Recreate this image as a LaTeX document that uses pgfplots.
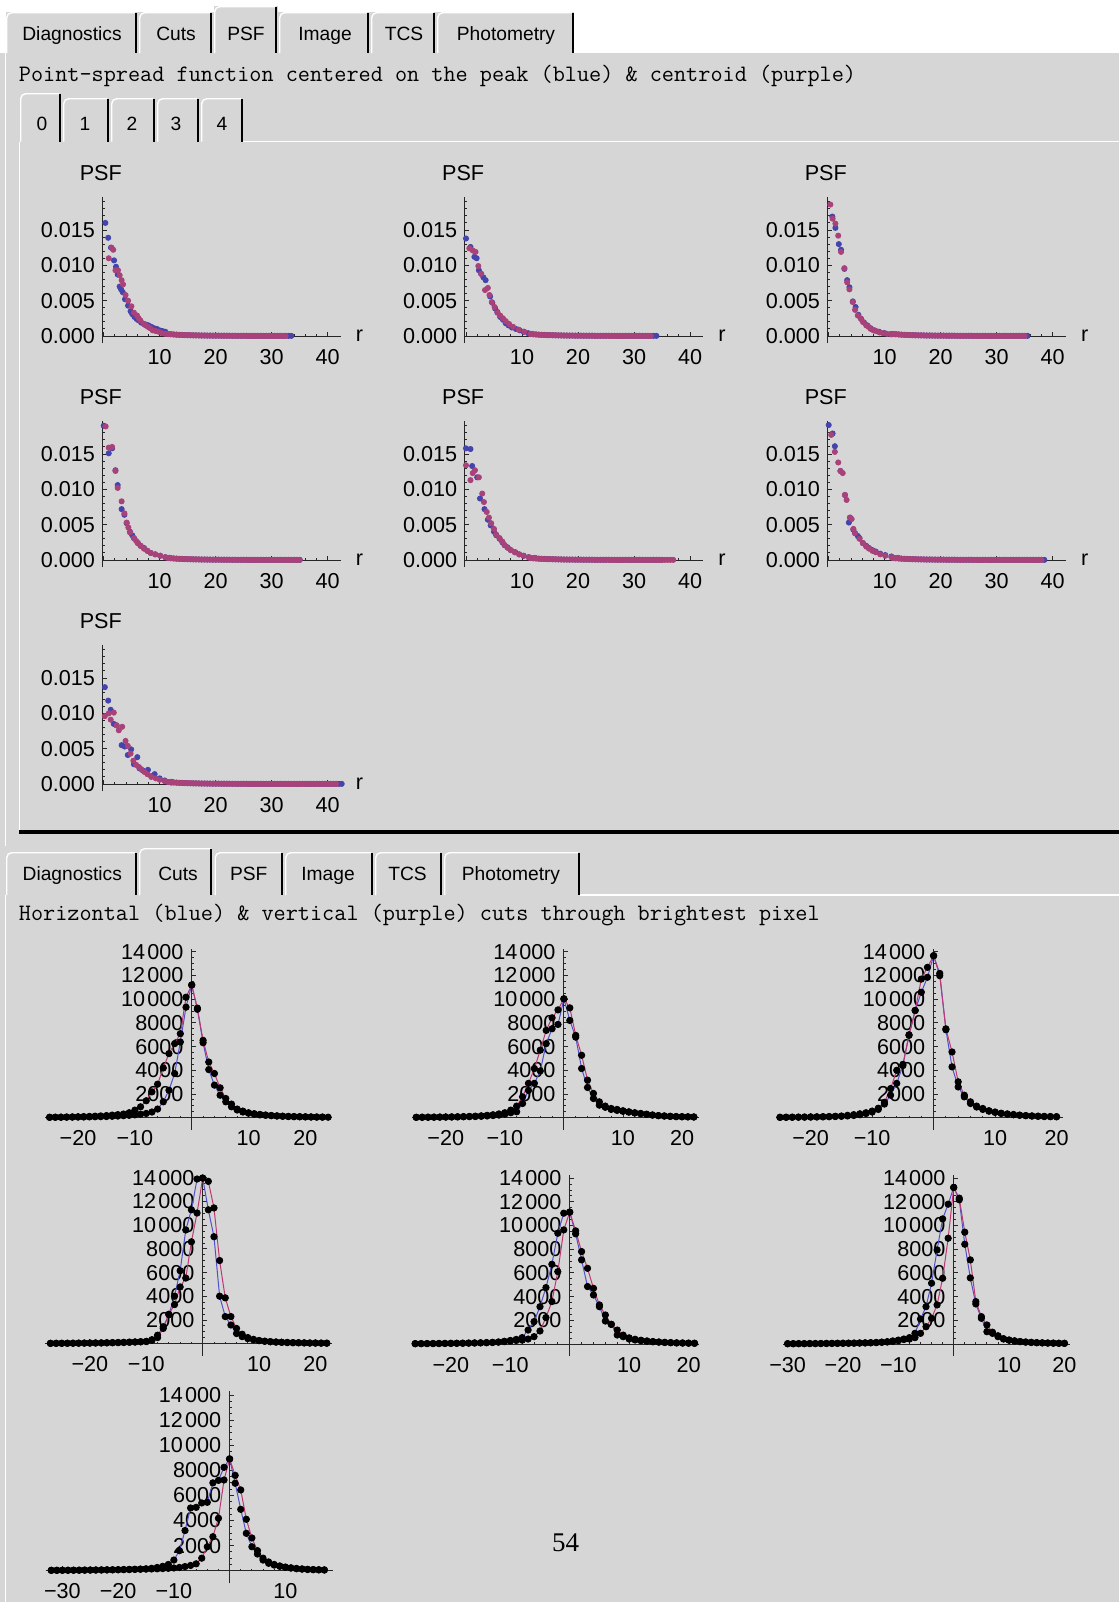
\documentclass[border=0pt]{standalone}
\usepackage{fontspec}
\usepackage{pgfplots}
\pgfplotsset{compat=1.18}
\usepackage{pgfplotstable}
\newfontfamily\lsans{Liberation Sans}
\newfontfamily\lserif{Liberation Serif}
\newcommand\tickf{\lsans\fontsize{10.8}{12}\selectfont}
\newcommand\tabf{\lsans\fontsize{9.6}{11}\selectfont}
\newcommand\monof{\ttfamily\fontsize{11.78}{13}\selectfont}
\definecolor{bgc}{RGB}{214,214,214}
\definecolor{psfb}{RGB}{68,68,172}
\definecolor{psfp}{RGB}{168,66,120}
\definecolor{cutb}{RGB}{80,80,205}
\definecolor{cutp}{RGB}{190,55,115}

% ---------------- PSF data (r, PSF) ----------------
\pgfplotstableread[row sep=\\]{r v\\
11.5 0.00028\\12 0.00025\\12.5 0.00022\\13 0.00019\\13.5 0.00017\\14 0.00015\\14.5 0.00013\\15 0.00012\\15.5 0.00011\\16 0.0001\\16.5 0.00009\\17 0.00008\\17.5 0.00007\\18 0.00007\\18.5 0.00006\\19 0.00006\\19.5 0.00005\\20 0.00005\\20.5 0.00005\\21 0.00004\\21.5 0.00004\\22 0.00004\\22.5 0.00004\\23 0.00003\\23.5 0.00003\\24 0.00003\\24.5 0.00003\\25 0.00003\\25.5 0.00003\\26 0.00002\\26.5 0.00002\\27 0.00002\\27.5 0.00002\\28 0.00002\\28.5 0.00002\\29 0.00002\\29.5 0.00002\\30 0.00002\\30.5 0.00002\\31 0.00002\\31.5 0.00002\\32 0.00002\\32.5 0.00002\\33 0.00002\\33.5 0.00002\\34 0.00002\\34.5 0.00002\\35 0.00002\\35.5 0.00002\\36 0.00002\\36.5 0.00002\\37 0.00002\\37.5 0.00002\\38 0.00002\\38.5 0.00002\\39 0.00002\\39.5 0.00002\\40 0.00002\\40.5 0.00002\\41 0.00002\\41.5 0.00002\\42 0.00002\\42.5 0.00002\\
}\psftail

\pgfplotstableread[row sep=\\]{r v\\0.3 0.0160\\0.8 0.0139\\1.3 0.0125\\1.85 0.0107\\2.2 0.0098\\2.5 0.0087\\2.85 0.0070\\3.1 0.0066\\3.4 0.0062\\3.8 0.0052\\4.35 0.0043\\4.8 0.0035\\5.1 0.0031\\5.5 0.0027\\5.9 0.0024\\6.25 0.0022\\6.7 0.0019\\7.2 0.0017\\7.6 0.0016\\8.0 0.0015\\8.5 0.0013\\9.0 0.0011\\9.5 0.0010\\10.0 0.0008\\10.5 0.0007\\11.0 0.0006\\}\pAb
\pgfplotstableread[row sep=\\]{r v\\0.9 0.0110\\1.4 0.0125\\1.7 0.0122\\2.1 0.0093\\2.55 0.0093\\2.85 0.0086\\3.2 0.0079\\3.45 0.0073\\3.9 0.0058\\4.35 0.0050\\4.95 0.0042\\5.4 0.0033\\5.95 0.0029\\6.25 0.0025\\6.55 0.0022\\7.15 0.0017\\7.5 0.0015\\7.9 0.0013\\8.3 0.0011\\8.75 0.0008\\9.3 0.0007\\9.8 0.0006\\10.4 0.0004\\11.0 0.0003\\}\pAp

\pgfplotstableread[row sep=\\]{r v\\0 0.0138\\0.8 0.0126\\1.5 0.0112\\1.9 0.0110\\2.3 0.0093\\2.7 0.0088\\3.1 0.0083\\3.5 0.0079\\4.3 0.0056\\4.7 0.0047\\5.2 0.0039\\5.6 0.0034\\6.1 0.0027\\6.6 0.0023\\7.1 0.0018\\7.6 0.0015\\8.2 0.0012\\8.9 0.0010\\9.6 0.0008\\10.3 0.0006\\11.1 0.0004\\}\pBb
\pgfplotstableread[row sep=\\]{r v\\0.6 0.0124\\1.2 0.0121\\1.7 0.0119\\2.2 0.0099\\2.7 0.0088\\3.4 0.0065\\3.9 0.0068\\4.2 0.0058\\4.6 0.0048\\5.1 0.0041\\5.6 0.0033\\6.1 0.0029\\6.6 0.0025\\7.1 0.0021\\7.7 0.0017\\8.4 0.0013\\9.4 0.0009\\10.4 0.0006\\11.7 0.0003\\}\pBp

\pgfplotstableread[row sep=\\]{r v\\0.65 0.0169\\1.2 0.0153\\1.8 0.0130\\2.2 0.0122\\2.8 0.0095\\3.3 0.0079\\3.7 0.0069\\4.3 0.0049\\4.8 0.0041\\5.3 0.0030\\5.8 0.0024\\6.3 0.0019\\6.9 0.0015\\7.5 0.0011\\8.2 0.0008\\9.0 0.0006\\10.0 0.0004\\11.0 0.00026\\}\pCb
\pgfplotstableread[row sep=\\]{r v\\0.3 0.0186\\0.7 0.0166\\1.2 0.0159\\1.7 0.0142\\2.2 0.0119\\2.8 0.0096\\3.3 0.0076\\3.7 0.0066\\4.3 0.0048\\4.7 0.0037\\5.2 0.0029\\5.7 0.0025\\6.1 0.0020\\6.7 0.0015\\7.1 0.0013\\7.5 0.0010\\8.0 0.0008\\8.5 0.0007\\9.1 0.0005\\9.7 0.0004\\10.4 0.0003\\11.2 0.00024\\}\pCp

\pgfplotstableread[row sep=\\]{r v\\0 0.0190\\0.9 0.0151\\1.5 0.0158\\2.1 0.0127\\2.5 0.0106\\3.2 0.0072\\3.7 0.0064\\4.1 0.0052\\4.7 0.0040\\5.1 0.0035\\5.4 0.0031\\6.1 0.0024\\6.6 0.0020\\7.2 0.0017\\7.8 0.0013\\8.4 0.0010\\9.2 0.0008\\10.1 0.0006\\11.0 0.0004\\11.8 0.0003\\}\pDb
\pgfplotstableread[row sep=\\]{r v\\0.35 0.0189\\0.9 0.0159\\1.5 0.0160\\2.1 0.0126\\2.5 0.0102\\3.2 0.0083\\3.7 0.0066\\4.1 0.0053\\4.4 0.0046\\4.7 0.0039\\5.4 0.0031\\5.8 0.0027\\6.1 0.0024\\6.6 0.0020\\7.2 0.0016\\7.8 0.0013\\8.4 0.0010\\9.2 0.0008\\10.1 0.0006\\11.0 0.0004\\11.8 0.0003\\}\pDp

\pgfplotstableread[row sep=\\]{r v\\0 0.0158\\0.8 0.0157\\1.1 0.0133\\2.0 0.0117\\2.5 0.0087\\3.3 0.0072\\3.9 0.0057\\4.4 0.0049\\5.0 0.0040\\5.4 0.0035\\6.0 0.0030\\6.5 0.0025\\6.9 0.0021\\7.4 0.0018\\8.0 0.0014\\8.8 0.0011\\9.5 0.0008\\10.3 0.0006\\11.2 0.0004\\12.3 0.0003\\}\pEb
\pgfplotstableread[row sep=\\]{r v\\0 0.0134\\0.8 0.0113\\1.2 0.0123\\1.6 0.0127\\2.3 0.0117\\2.9 0.0094\\3.2 0.0082\\3.7 0.0068\\4.1 0.0060\\4.5 0.0052\\5.0 0.0044\\5.4 0.0036\\6.0 0.0031\\6.5 0.0026\\6.9 0.0021\\7.5 0.0017\\8.0 0.0014\\8.7 0.0011\\9.5 0.0008\\10.3 0.0006\\11.2 0.0004\\12.3 0.0003\\}\pEp

\pgfplotstableread[row sep=\\]{r v\\0 0.0191\\0.7 0.0179\\1.1 0.0161\\2.1 0.0126\\2.9 0.0092\\3.6 0.0053\\3.8 0.0060\\4.4 0.0043\\4.7 0.0038\\5.2 0.0034\\5.5 0.0031\\6.1 0.0024\\6.7 0.0020\\7.2 0.0017\\7.8 0.0014\\8.4 0.0012\\9.2 0.0009\\10.1 0.0007\\11.2 0.0005\\12.4 0.0003\\}\pFb
\pgfplotstableread[row sep=\\]{r v\\0.45 0.0177\\1.1 0.0153\\1.7 0.0138\\2.1 0.0126\\2.5 0.0123\\2.9 0.0092\\3.2 0.0085\\3.8 0.0060\\4.1 0.0058\\4.4 0.0044\\4.7 0.0038\\5.5 0.0030\\6.1 0.0024\\6.7 0.0019\\7.2 0.0016\\7.8 0.0013\\8.4 0.0011\\9.2 0.0008\\10.1 0.0006\\11.2 0.0004\\12.4 0.0003\\}\pFp

\pgfplotstableread[row sep=\\]{r v\\0.2 0.0137\\0.8 0.0118\\1.25 0.0105\\1.8 0.0085\\2.3 0.0083\\3.2 0.0055\\3.75 0.0053\\4.3 0.0041\\4.9 0.0049\\5.4 0.0028\\6.0 0.0038\\6.4 0.0022\\7.0 0.0019\\7.9 0.0020\\8.5 0.0011\\9.1 0.0014\\10.0 0.0008\\10.9 0.0005\\12.1 0.0003\\}\pGb
\pgfplotstableread[row sep=\\]{r v\\0.2 0.0096\\0.9 0.0100\\1.25 0.0091\\1.8 0.0101\\2.3 0.0083\\2.7 0.0076\\3.3 0.0081\\3.9 0.0061\\4.3 0.0054\\4.8 0.0043\\5.3 0.0033\\5.8 0.0027\\6.3 0.0024\\6.7 0.0021\\7.3 0.0017\\7.8 0.0014\\8.5 0.0010\\9.3 0.0008\\10.0 0.0006\\10.9 0.0004\\12.1 0.0002\\}\pGp

% ---------------- Cut data (offset, counts) ----------------
\pgfplotstableread[row sep=\\]{x y\\-25 30\\-24 35\\-23 40\\-22 45\\-21 50\\-20 55\\-19 60\\-18 70\\-17 80\\-16 90\\-15 100\\-14 120\\-13 140\\-12 170\\-11 200\\-10 240\\-9 300\\-8 360\\-7 480\\-6 730\\-5 1340\\-4 2320\\-3 3730\\-2 6390\\-1 9330\\0 11200\\1 9150\\2 6330\\3 4060\\4 2750\\5 1900\\6 1340\\7 920\\8 650\\9 480\\10 380\\11 300\\12 240\\13 200\\14 170\\15 140\\16 120\\17 100\\18 90\\19 80\\20 70\\21 60\\22 55\\23 50\\24 45\\}\cAh
\pgfplotstableread[row sep=\\]{x y\\-25 40\\-24 45\\-23 50\\-22 60\\-21 70\\-20 80\\-19 95\\-18 110\\-17 130\\-16 150\\-15 180\\-14 220\\-13 260\\-12 310\\-11 420\\-10 640\\-9 920\\-8 1430\\-7 2180\\-6 2830\\-5 4200\\-4 5410\\-3 6250\\-2 7090\\-1 10170\\0 11200\\1 9250\\2 6530\\3 4700\\4 3730\\5 2520\\6 1620\\7 1150\\8 730\\9 560\\10 420\\11 340\\12 280\\13 230\\14 190\\15 160\\16 130\\17 110\\18 95\\19 85\\20 75\\21 65\\22 55\\23 50\\}\cAv

\pgfplotstableread[row sep=\\]{x y\\-25 30\\-24 35\\-23 40\\-22 45\\-21 50\\-20 55\\-19 60\\-18 70\\-17 80\\-16 90\\-15 100\\-14 120\\-13 150\\-12 180\\-11 220\\-10 300\\-9 420\\-8 500\\-7 1200\\-6 2300\\-5 2900\\-4 3950\\-3 6250\\-2 7510\\-1 7870\\0 10030\\1 8210\\2 6800\\3 4150\\4 2550\\5 1620\\6 1060\\7 880\\8 700\\9 620\\10 540\\11 470\\12 400\\13 340\\14 280\\15 220\\16 170\\17 140\\18 110\\19 90\\20 80\\21 70\\22 60\\}\cBh
\pgfplotstableread[row sep=\\]{x y\\-25 35\\-24 40\\-23 45\\-22 50\\-21 55\\-20 60\\-19 70\\-18 80\\-17 95\\-16 110\\-15 130\\-14 160\\-13 200\\-12 250\\-11 320\\-10 420\\-9 640\\-8 980\\-7 1760\\-6 2900\\-5 4150\\-4 5700\\-3 7370\\-2 8430\\-1 9100\\0 10030\\1 9270\\2 6950\\3 5270\\4 3170\\5 2050\\6 1340\\7 980\\8 780\\9 700\\10 590\\11 500\\12 420\\13 360\\14 300\\15 230\\16 180\\17 150\\18 120\\19 100\\20 85\\21 75\\22 65\\}\cBv

\pgfplotstableread[row sep=\\]{x y\\-25 30\\-24 35\\-23 40\\-22 45\\-21 50\\-20 55\\-19 65\\-18 75\\-17 85\\-16 100\\-15 120\\-14 150\\-13 190\\-12 250\\-11 350\\-10 480\\-9 700\\-8 1150\\-7 1900\\-6 2900\\-5 4400\\-4 6950\\-3 9050\\-2 10590\\-1 11850\\0 13670\\1 12180\\2 7420\\3 4290\\4 2600\\5 1760\\6 1200\\7 900\\8 700\\9 550\\10 450\\11 360\\12 300\\13 250\\14 200\\15 170\\16 140\\17 120\\18 100\\19 90\\20 80\\}\cCh
\pgfplotstableread[row sep=\\]{x y\\-25 35\\-24 40\\-23 45\\-22 50\\-21 55\\-20 65\\-19 75\\-18 85\\-17 100\\-16 120\\-15 140\\-14 200\\-13 260\\-12 330\\-11 420\\-10 560\\-9 800\\-8 1300\\-7 2460\\-6 4000\\-5 4500\\-4 7000\\-3 9050\\-2 11700\\-1 12690\\0 13670\\1 11990\\2 7500\\3 5550\\4 3030\\5 1900\\6 1340\\7 980\\8 780\\9 590\\10 480\\11 380\\12 320\\13 270\\14 220\\15 180\\16 150\\17 130\\18 110\\19 95\\20 85\\}\cCv

\pgfplotstableread[row sep=\\]{x y\\-27 30\\-26 30\\-25 35\\-24 35\\-23 40\\-22 45\\-21 50\\-20 55\\-19 60\\-18 65\\-17 75\\-16 85\\-15 95\\-14 110\\-13 130\\-12 150\\-11 170\\-10 200\\-9 340\\-8 720\\-7 1430\\-6 2440\\-5 4010\\-4 6160\\-3 9600\\-2 11300\\-1 13900\\0 13980\\1 11300\\2 9030\\3 4010\\4 2290\\5 1580\\6 860\\7 600\\8 430\\9 330\\10 260\\11 210\\12 170\\13 140\\14 120\\15 100\\16 90\\17 80\\18 70\\19 60\\20 55\\21 50\\22 45\\}\cDh
\pgfplotstableread[row sep=\\]{x y\\-27 30\\-26 35\\-25 35\\-24 40\\-23 45\\-22 50\\-21 55\\-20 60\\-19 65\\-18 70\\-17 80\\-16 90\\-15 100\\-14 110\\-13 125\\-12 140\\-11 160\\-10 180\\-9 290\\-8 520\\-7 1290\\-6 2490\\-5 3300\\-4 4790\\-3 5540\\-2 8600\\-1 11030\\0 13980\\1 13700\\2 11460\\3 7020\\4 3870\\5 2290\\6 1290\\7 800\\8 520\\9 370\\10 270\\11 210\\12 170\\13 140\\14 120\\15 100\\16 90\\17 80\\18 70\\19 60\\20 55\\21 50\\22 45\\}\cDv

\pgfplotstableread[row sep=\\]{x y\\-26 30\\-25 30\\-24 35\\-23 40\\-22 45\\-21 50\\-20 55\\-19 60\\-18 70\\-17 80\\-16 90\\-15 105\\-14 120\\-13 140\\-12 170\\-11 230\\-10 300\\-9 390\\-8 540\\-7 1180\\-6 1890\\-5 3150\\-4 4760\\-3 6730\\-2 9350\\-1 11040\\0 11130\\1 9300\\2 7100\\3 4850\\4 4140\\5 3150\\6 1940\\7 1660\\8 760\\9 620\\10 420\\11 340\\12 280\\13 230\\14 190\\15 160\\16 130\\17 110\\18 90\\19 80\\20 70\\21 60\\}\cEh
\pgfplotstableread[row sep=\\]{x y\\-26 30\\-25 35\\-24 35\\-23 40\\-22 45\\-21 50\\-20 55\\-19 60\\-18 65\\-17 75\\-16 85\\-15 95\\-14 110\\-13 130\\-12 160\\-11 200\\-10 250\\-9 300\\-8 330\\-7 420\\-6 620\\-5 1100\\-4 2230\\-3 3580\\-2 6110\\-1 9630\\0 11130\\1 9550\\2 7800\\3 6390\\4 4700\\5 3300\\6 2450\\7 1660\\8 1180\\9 750\\10 520\\11 400\\12 320\\13 260\\14 210\\15 170\\16 140\\17 120\\18 100\\19 85\\20 75\\21 65\\}\cEv

\pgfplotstableread[row sep=\\]{x y\\-30 25\\-29 25\\-28 30\\-27 30\\-26 35\\-25 35\\-24 40\\-23 45\\-22 50\\-21 55\\-20 60\\-19 65\\-18 70\\-17 80\\-16 90\\-15 100\\-14 120\\-13 140\\-12 170\\-11 220\\-10 280\\-9 380\\-8 540\\-7 900\\-6 2110\\-5 3150\\-4 5130\\-3 7940\\-2 10560\\-1 11800\\0 13210\\1 12170\\2 8420\\3 5580\\4 3380\\5 2170\\6 1040\\7 900\\8 620\\9 420\\10 320\\11 250\\12 200\\13 160\\14 130\\15 110\\16 95\\17 80\\18 70\\19 60\\20 55\\}\cFh
\pgfplotstableread[row sep=\\]{x y\\-30 30\\-29 30\\-28 35\\-27 35\\-26 40\\-25 40\\-24 45\\-23 50\\-22 55\\-21 60\\-20 65\\-19 70\\-18 80\\-17 90\\-16 100\\-15 115\\-14 130\\-13 160\\-12 200\\-11 260\\-10 330\\-9 420\\-8 420\\-7 540\\-6 900\\-5 1460\\-4 2170\\-3 3300\\-2 5550\\-1 8930\\0 13210\\1 12310\\2 9440\\3 7100\\4 3580\\5 2310\\6 1610\\7 1000\\8 700\\9 450\\10 340\\11 270\\12 210\\13 170\\14 140\\15 115\\16 100\\17 85\\18 75\\19 65\\20 60\\}\cFv

\pgfplotstableread[row sep=\\]{x y\\-32 30\\-31 30\\-30 35\\-29 35\\-28 40\\-27 40\\-26 45\\-25 50\\-24 55\\-23 60\\-22 65\\-21 70\\-20 80\\-19 90\\-18 100\\-17 110\\-16 130\\-15 150\\-14 190\\-13 260\\-12 350\\-11 500\\-10 850\\-9 1600\\-8 3200\\-7 5000\\-6 5050\\-5 5400\\-4 5450\\-3 7000\\-2 7200\\-1 8240\\0 8910\\1 6970\\2 4890\\3 2980\\4 1910\\5 1330\\6 850\\7 590\\8 450\\9 350\\10 270\\11 210\\12 160\\13 130\\14 100\\15 85\\16 70\\17 60\\}\cGh
\pgfplotstableread[row sep=\\]{x y\\-32 30\\-31 35\\-30 35\\-29 40\\-28 40\\-27 45\\-26 50\\-25 55\\-24 60\\-23 65\\-22 70\\-21 75\\-20 80\\-19 90\\-18 100\\-17 110\\-16 120\\-15 130\\-14 140\\-13 150\\-12 170\\-11 190\\-10 220\\-9 260\\-8 330\\-7 420\\-6 550\\-5 1000\\-4 1910\\-3 2710\\-2 4180\\-1 7230\\0 8910\\1 7600\\2 6440\\3 4100\\4 2610\\5 1600\\6 1000\\7 700\\8 500\\9 380\\10 290\\11 230\\12 180\\13 140\\14 110\\15 90\\16 75\\17 65\\}\cGv

\pgfplotsset{
  common/.style={
    anchor=origin, scale only axis, clip=false,
    axis line style={black!85, line width=0.5pt},
    tick align=inside, major tick length=2.2pt, minor tick length=1.1pt,
    tick style={black!85, line width=0.45pt},
    ticklabel style={font=\tickf},
    xticklabel style={anchor=north, inner sep=0pt, yshift=-6.3pt},
    hide obscured x ticks=false, hide obscured y ticks=false,
    scaled ticks=false,
  },
  psf/.style={common,
    width=119.15pt, height=73.15pt,
    xmin=-0.25, xmax=42.3, ymin=-0.001, ymax=0.0197,
    axis x line*=middle, axis y line*=left,
    xtick={0,10,20,30,40}, xticklabels={,10,20,30,40},
    ytick={0,0.005,0.01,0.015}, yticklabels={0.000,0.005,0.010,0.015},
    minor x tick num=4, minor y tick num=4,
    extra y ticks={0.016,0.017,0.018,0.019}, extra y tick labels={},
    extra y tick style={major tick length=1.1pt},
    yticklabel style={anchor=east, inner sep=0pt, xshift=-3.5pt},
  },
  cut/.style={common,
    width=143.5pt,
    axis x line*=middle, axis y line*=middle,
    ytick={0,2000,4000,6000,8000,10000,12000,14000},
    yticklabels={,2000,4000,6000,8000,10\kern.1em000,12\kern.1em000,14\kern.1em000},
    minor x tick num=4, minor y tick num=3,
    yticklabel style={anchor=east, inner sep=0pt, xshift=-4pt},
  },
  rowa/.style={height=90.65pt, ymin=-1050, ymax=14250},
  rowc/.style={height=96pt, ymin=-1000, ymax=14300},
  pb/.style={only marks, mark=*, mark size=1.3pt, color=psfb, mark options={draw=none, fill=psfb}},
  pp/.style={only marks, mark=*, mark size=1.3pt, color=psfp, mark options={draw=none, fill=psfp}},
  cl/.style={no marks, line width=0.5pt},
  cm/.style={only marks, mark=*, mark size=1.6pt, color=black, mark options={draw=none, fill=black}},
}

\newcommand{\tabbox}[4]{%
  \fill[bgc] (#1,#3) rectangle (#2,#4);
  \draw[white, line width=0.7pt, rounded corners=2.5pt] (#1+0.7,#4) -- (#1+0.7,#3+0.7) -- (#2-2,#3+0.7);
  \draw[black, line width=1.2pt] (#2-1.3,#3+1) -- (#2-1.3,#4);
}
\newcommand{\psflabels}{%
  \node[font=\tickf, inner sep=0pt, xshift=-0.75pt, yshift=81.5pt] at (axis cs:-0.25,0) {PSF};
  \node[font=\tickf, inner sep=0pt, anchor=west, xshift=7.5pt] at (axis cs:42.3,0) {r};
}
\newcommand{\psfplot}[6]{% #1 b table, #2 b end, #3 p table, #4 p end, #5 x pt, #6 y pt
  \begin{axis}[psf, at={(#5,#6)}]
    \addplot[pb] table[x=r,y=v]{#1};
    \addplot[pb, restrict x to domain=11.5:#2] table[x=r,y=v]{\psftail};
    \addplot[pp] table[x=r,y=v]{#3};
    \addplot[pp, restrict x to domain=11.5:#4] table[x=r,y=v]{\psftail};
    \psflabels
  \end{axis}
}
\newcommand{\cutplots}[2]{%
  \addplot[cl, cutb] table{#1};
  \addplot[cl, cutp] table{#2};
  \addplot[cm] table{#1};
  \addplot[cm] table{#2};
}

\begin{document}
\begin{tikzpicture}
\begin{scope}[x=0.5pt, y=-0.5pt]
  \useasboundingbox (0,0) rectangle (1119,1602);
  \fill[bgc] (0,0) rectangle (1119,1602);
  \fill[white] (0,0) rectangle (1119,12);
  \fill[white] (574,0) rectangle (1119,53);
  \fill[white] (0,0) rectangle (6,53);
  % top tabs
  \tabbox{6}{137}{12}{53}
  \tabbox{139}{212}{12}{53}
  \tabbox{214}{277.5}{6}{53}
  \tabbox{279}{369}{12}{53}
  \tabbox{371}{435.5}{12}{53}
  \tabbox{437}{574}{12}{53}
  \node[font=\tabf, anchor=base] at (72,40) {Diagnostics};
  \node[font=\tabf, anchor=base] at (176,40) {Cuts};
  \node[font=\tabf, anchor=base] at (246,40) {PSF};
  \node[font=\tabf, anchor=base] at (325,40) {Image};
  \node[font=\tabf, anchor=base] at (404,40) {TCS};
  \node[font=\tabf, anchor=base] at (506,40) {Photometry};
  \draw[white, line width=0.6pt] (5.7,53) -- (5.7,846);
  \node[font=\monof, anchor=base west, inner sep=0pt] at (18.5,81) {Point-spread function centered on the peak (blue) \& centroid (purple)};
  % sub tabs
  \tabbox{20}{61}{93}{141.5}
  \tabbox{63}{109}{98}{141.5}
  \tabbox{111}{155}{98}{141.5}
  \tabbox{157}{199}{98}{141.5}
  \tabbox{201}{243}{98}{141.5}
  \node[font=\tabf, anchor=base] at (42,130) {0};
  \node[font=\tabf, anchor=base] at (85,130) {1};
  \node[font=\tabf, anchor=base] at (132,130) {2};
  \node[font=\tabf, anchor=base] at (176,130) {3};
  \node[font=\tabf, anchor=base] at (222,130) {4};
  \draw[white, line width=0.6pt] (243,141.5) -- (1119,141.5);
  \draw[white, line width=0.6pt] (19.5,141.5) -- (19.5,832);
  \draw[black, line width=1.6pt] (19,832) -- (1119,832);
  % bottom tabs
  \tabbox{6}{137}{852}{895}
  \tabbox{139}{212.4}{848}{895}
  \tabbox{214.5}{283}{852}{895}
  \tabbox{285}{373}{852}{895}
  \tabbox{375}{442}{852}{895}
  \tabbox{444}{580}{852}{895}
  \node[font=\tabf, anchor=base] at (72.3,880) {Diagnostics};
  \node[font=\tabf, anchor=base] at (178,880) {Cuts};
  \node[font=\tabf, anchor=base] at (248.7,880) {PSF};
  \node[font=\tabf, anchor=base] at (328,880) {Image};
  \node[font=\tabf, anchor=base] at (407.5,880) {TCS};
  \node[font=\tabf, anchor=base] at (511,880) {Photometry};
  \draw[white, line width=0.6pt] (580,895) -- (1119,895);
  \draw[white, line width=0.6pt] (5.7,895) -- (5.7,1602);
  \node[font=\monof, anchor=base west, inner sep=0pt] at (18.5,920) {Horizontal (blue) \& vertical (purple) cuts through brightest pixel};
  \node[font=\lserif\fontsize{13.5}{15}\selectfont, anchor=base] at (565.5,1551.7) {54};
\end{scope}

% ---------------- PSF panels ----------------
\psfplot{\pAb}{33.9}{\pAp}{32.5}{51.85pt}{-168pt}
\psfplot{\pBb}{34.1}{\pBp}{33}{233pt}{-168pt}
\psfplot{\pCb}{35.6}{\pCp}{35}{414.35pt}{-168pt}
\psfplot{\pDb}{35}{\pDp}{35.4}{51.85pt}{-280pt}
\psfplot{\pEb}{35}{\pEp}{37.4}{233pt}{-280pt}
\psfplot{\pFb}{38.9}{\pFp}{38}{414.35pt}{-280pt}
\psfplot{\pGb}{42.5}{\pGp}{41.5}{51.85pt}{-392pt}

% ---------------- Cut panels ----------------
\begin{axis}[cut, rowa, at={(95.85pt,-558.85pt)}, xmin=-25.8, xmax=24.7,
  xtick={-20,-10,0,10,20}, xticklabels={−20,−10,,10,20}]
  \cutplots{\cAh}{\cAv}
\end{axis}
\begin{axis}[cut, rowa, at={(281.95pt,-558.85pt)}, xmin=-25.7, xmax=22.9,
  xtick={-20,-10,0,10,20}, xticklabels={−20,−10,,10,20}]
  \cutplots{\cBh}{\cBv}
\end{axis}
\begin{axis}[cut, rowa, at={(466.8pt,-558.85pt)}, xmin=-25.7, xmax=21.0,
  xtick={-20,-10,0,10,20}, xticklabels={−20,−10,,10,20}]
  \cutplots{\cCh}{\cCv}
\end{axis}
\begin{axis}[cut, rowa, at={(101.35pt,-671.85pt)}, xmin=-27.9, xmax=23.0,
  xtick={-20,-10,0,10,20}, xticklabels={−20,−10,,10,20}]
  \cutplots{\cDh}{\cDv}
\end{axis}
\begin{axis}[cut, rowa, at={(284.85pt,-672pt)}, xmin=-26.6, xmax=21.7,
  xtick={-20,-10,0,10,20}, xticklabels={−20,−10,,10,20}]
  \cutplots{\cEh}{\cEv}
\end{axis}
\begin{axis}[cut, rowa, at={(476.85pt,-672pt)}, xmin=-30.8, xmax=21.05,
  xtick={-30,-20,-10,0,10,20}, xticklabels={−30,−20,−10,,10,20}]
  \cutplots{\cFh}{\cFv}
\end{axis}
\begin{axis}[cut, rowc, at={(114.8pt,-785.35pt)}, xmin=-33, xmax=18.5,
  xtick={-30,-20,-10,0,10}, xticklabels={−30,−20,−10,,10}]
  \cutplots{\cGh}{\cGv}
\end{axis}
\end{tikzpicture}
\end{document}
